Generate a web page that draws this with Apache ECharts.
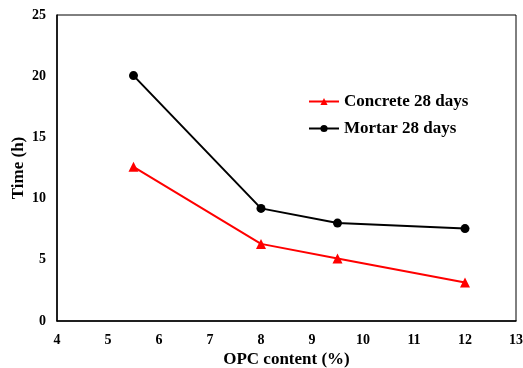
<!DOCTYPE html>
<html>
<head>
<meta charset="utf-8">
<script src="https://cdn.jsdelivr.net/npm/echarts@6/dist/echarts.min.js"></script>
<style>
  html, body { margin: 0; padding: 0; background: #fff; }
  #chart { width: 523px; height: 368px; }
</style>
</head>
<body>
<div id="chart"></div>
<script>
// OPC content (%) on the x axis
const opcContent = [5.5, 8, 9.5, 12];
// Setting time (h)
const concrete28 = [12.6, 6.3, 5.1, 3.15];
const mortar28 = [20.05, 9.2, 8.0, 7.55];
const xTicks = [4, 5, 6, 7, 8, 9, 10, 11, 12, 13];
const yTicks = [0, 5, 10, 15, 20, 25];

const serif = '"Liberation Serif", "Times New Roman", serif';
const chart = echarts.init(document.getElementById('chart'), null, { renderer: 'canvas' });

chart.setOption({
  animation: false,
  backgroundColor: '#fff',
  grid: {
    left: 57, top: 15, right: 7, bottom: 47,
    outerBoundsMode: 'none', containLabel: false,
    show: true, borderColor: '#000', borderWidth: 1, backgroundColor: 'transparent'
  },
  legend: {
    orient: 'vertical',
    left: 303, top: 88,
    itemWidth: 30, itemHeight: 9, itemGap: 10,
    textStyle: { fontFamily: serif, fontWeight: 'bold', fontSize: 17, color: '#000' },
    data: ['Concrete 28 days', 'Mortar 28 days']
  },
  xAxis: {
    type: 'value',
    min: xTicks[0], max: xTicks[xTicks.length - 1], interval: 1,
    name: 'OPC content (%)', nameLocation: 'middle', nameGap: 30, nameMoveOverlap: false,
    nameTextStyle: { fontFamily: serif, fontWeight: 'bold', fontSize: 17, color: '#000' },
    axisLine: { show: true, lineStyle: { color: '#000', width: 1.5 } },
    axisTick: { show: false },
    splitLine: { show: false },
    axisLabel: { fontFamily: serif, fontWeight: 'bold', fontSize: 14, color: '#000', margin: 12 }
  },
  yAxis: {
    type: 'value',
    min: yTicks[0], max: yTicks[yTicks.length - 1], interval: 5,
    name: 'Time (h)', nameLocation: 'middle', nameGap: 30, nameRotate: 90, nameMoveOverlap: false,
    nameTextStyle: { fontFamily: serif, fontWeight: 'bold', fontSize: 17, color: '#000' },
    axisLine: { show: true, lineStyle: { color: '#000', width: 1.5 } },
    axisTick: { show: false },
    splitLine: { show: false },
    axisLabel: { fontFamily: serif, fontWeight: 'bold', fontSize: 14, color: '#000', margin: 11 }
  },
  series: [
    {
      name: 'Concrete 28 days',
      type: 'line',
      data: opcContent.map((x, i) => [x, concrete28[i]]),
      symbol: 'triangle', symbolSize: 10,
      lineStyle: { color: '#ff0000', width: 2 },
      itemStyle: { color: '#ff0000' }
    },
    {
      name: 'Mortar 28 days',
      type: 'line',
      data: opcContent.map((x, i) => [x, mortar28[i]]),
      symbol: 'circle', symbolSize: 9,
      lineStyle: { color: '#000', width: 2 },
      itemStyle: { color: '#000' }
    }
  ]
});
</script>
</body>
</html>
